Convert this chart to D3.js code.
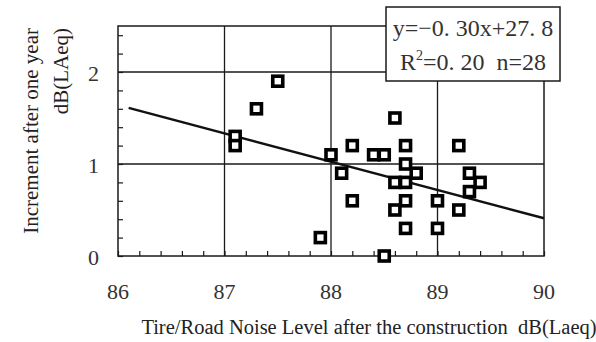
<!DOCTYPE html>
<meta charset="utf-8">
<script src="https://d3js.org/d3.v7.min.js"></script>
<style>
  body { margin: 0; background: #fff; }
  text { font-family: "Liberation Serif", "DejaVu Serif", serif; }
</style>
<div id="chart"></div>
<script>
// measured points (noise level, increment)
var noiseLevel = [87.1, 87.1, 87.3, 87.5, 87.9, 88.0, 88.1, 88.2, 88.2, 88.4,
                  88.5, 88.5, 88.6, 88.6, 88.6, 88.7, 88.7, 88.7, 88.7, 88.7,
                  88.8, 89.0, 89.0, 89.2, 89.2, 89.3, 89.3, 89.4];
var increment  = [1.3, 1.2, 1.6, 1.9, 0.2, 1.1, 0.9, 1.2, 0.6, 1.1,
                  1.1, 0.0, 1.5, 0.8, 0.5, 1.2, 1.0, 0.8, 0.6, 0.3,
                  0.9, 0.6, 0.3, 1.2, 0.5, 0.9, 0.7, 0.8];
// regression line end points
var fitX = [86.1, 90];
var fitY = [1.61, 0.41];
var xTicks = [86, 87, 88, 89, 90];
var yTicks = [0, 1, 2];
var fitLabel = "y=\u22120. 30x+27. 8";

var W = 596, H = 342;
var margin = { top: 26, right: 52, bottom: 86, left: 118 };
var width = W - margin.left - margin.right,
    height = H - margin.top - margin.bottom;

var svg = d3.select("#chart").append("svg")
    .attr("width", W).attr("height", H);
var g = svg.append("g")
    .attr("transform", "translate(" + margin.left + "," + margin.top + ")");

var x = d3.scaleLinear().domain([86, 90]).range([0, width]);
var y = d3.scaleLinear().domain([0, 2.5]).range([height, 0]);

var ink = "#1a1a1a";

// grid lines
g.selectAll(".vgrid").data([87, 88, 89]).enter().append("line")
    .attr("x1", d => x(d)).attr("x2", d => x(d))
    .attr("y1", 0).attr("y2", height)
    .attr("stroke", ink).attr("stroke-width", 1.3);
g.selectAll(".hgrid").data([1, 2]).enter().append("line")
    .attr("x1", 0).attr("x2", width)
    .attr("y1", d => y(d)).attr("y2", d => y(d))
    .attr("stroke", ink).attr("stroke-width", 1.3);

// minor ticks, pointing inward
var xAxis = g.append("g")
    .attr("transform", "translate(0," + height + ")")
    .call(d3.axisTop(x).tickValues(d3.range(86, 90.01, 0.2)).tickSize(5).tickFormat(""));
var yAxis = g.append("g")
    .call(d3.axisRight(y).tickValues(d3.range(0, 2.51, 0.2)).tickSize(5).tickFormat(""));
[xAxis, yAxis].forEach(function (a) {
    a.select(".domain").remove();
    a.selectAll("line").attr("stroke", ink).attr("stroke-width", 1.2);
});

// frame
g.append("rect")
    .attr("width", width).attr("height", height)
    .attr("fill", "none").attr("stroke", ink).attr("stroke-width", 1.5);

// tick labels
g.selectAll(".xlab").data(xTicks).enter().append("text")
    .attr("x", d => x(d)).attr("y", height + 43)
    .attr("text-anchor", "middle")
    .attr("font-size", 22).attr("fill", "#333")
    .text(d => d);
g.selectAll(".ylab").data(yTicks).enter().append("text")
    .attr("x", -19).attr("y", d => y(d) + 9)
    .attr("text-anchor", "end")
    .attr("font-size", 22).attr("fill", "#333")
    .text(d => d);

// regression line
g.append("line")
    .attr("x1", x(fitX[0])).attr("y1", y(fitY[0]))
    .attr("x2", x(fitX[1])).attr("y2", y(fitY[1]))
    .attr("stroke", "#111").attr("stroke-width", 2.5);

// points
var pts = noiseLevel.map((v, i) => ({ x: v, y: increment[i] }));
var s = 10;
g.selectAll(".pt").data(pts).enter().append("rect")
    .attr("x", d => x(d.x) - s / 2).attr("y", d => y(d.y) - s / 2)
    .attr("width", s).attr("height", s)
    .attr("fill", "#fff").attr("stroke", "#000").attr("stroke-width", 3.6);

// regression box
svg.append("rect")
    .attr("x", 386).attr("y", 7).attr("width", 174).attr("height", 74)
    .attr("fill", "#fff").attr("stroke", ink).attr("stroke-width", 1.5);
svg.append("text")
    .attr("x", 473).attr("y", 36)
    .attr("text-anchor", "middle").attr("font-size", 24).attr("fill", "#333")
    .text(fitLabel);
var r2 = svg.append("text")
    .attr("x", 473).attr("y", 70)
    .attr("text-anchor", "middle").attr("font-size", 24).attr("fill", "#333");
r2.append("tspan").text("R");
r2.append("tspan").attr("font-size", 14).attr("dy", -10).text("2");
r2.append("tspan").attr("dy", 10).text("=0. 20\u00a0\u00a0n=28");

// axis titles
svg.append("text")
    .attr("x", 369).attr("y", 334)
    .attr("text-anchor", "middle").attr("font-size", 20.5).attr("fill", "#222")
    .text("Tire/Road Noise Level after the construction\u00a0\u00a0dB(Laeq)");
var ylab = svg.append("text")
    .attr("transform", "translate(0,28) rotate(-90)")
    .attr("text-anchor", "end").attr("font-size", 21).attr("fill", "#222");
ylab.append("tspan").attr("x", 0).attr("y", 38).text("Increment after one year");
ylab.append("tspan").attr("x", 0).attr("y", 68).text("dB(LAeq)");
</script>
